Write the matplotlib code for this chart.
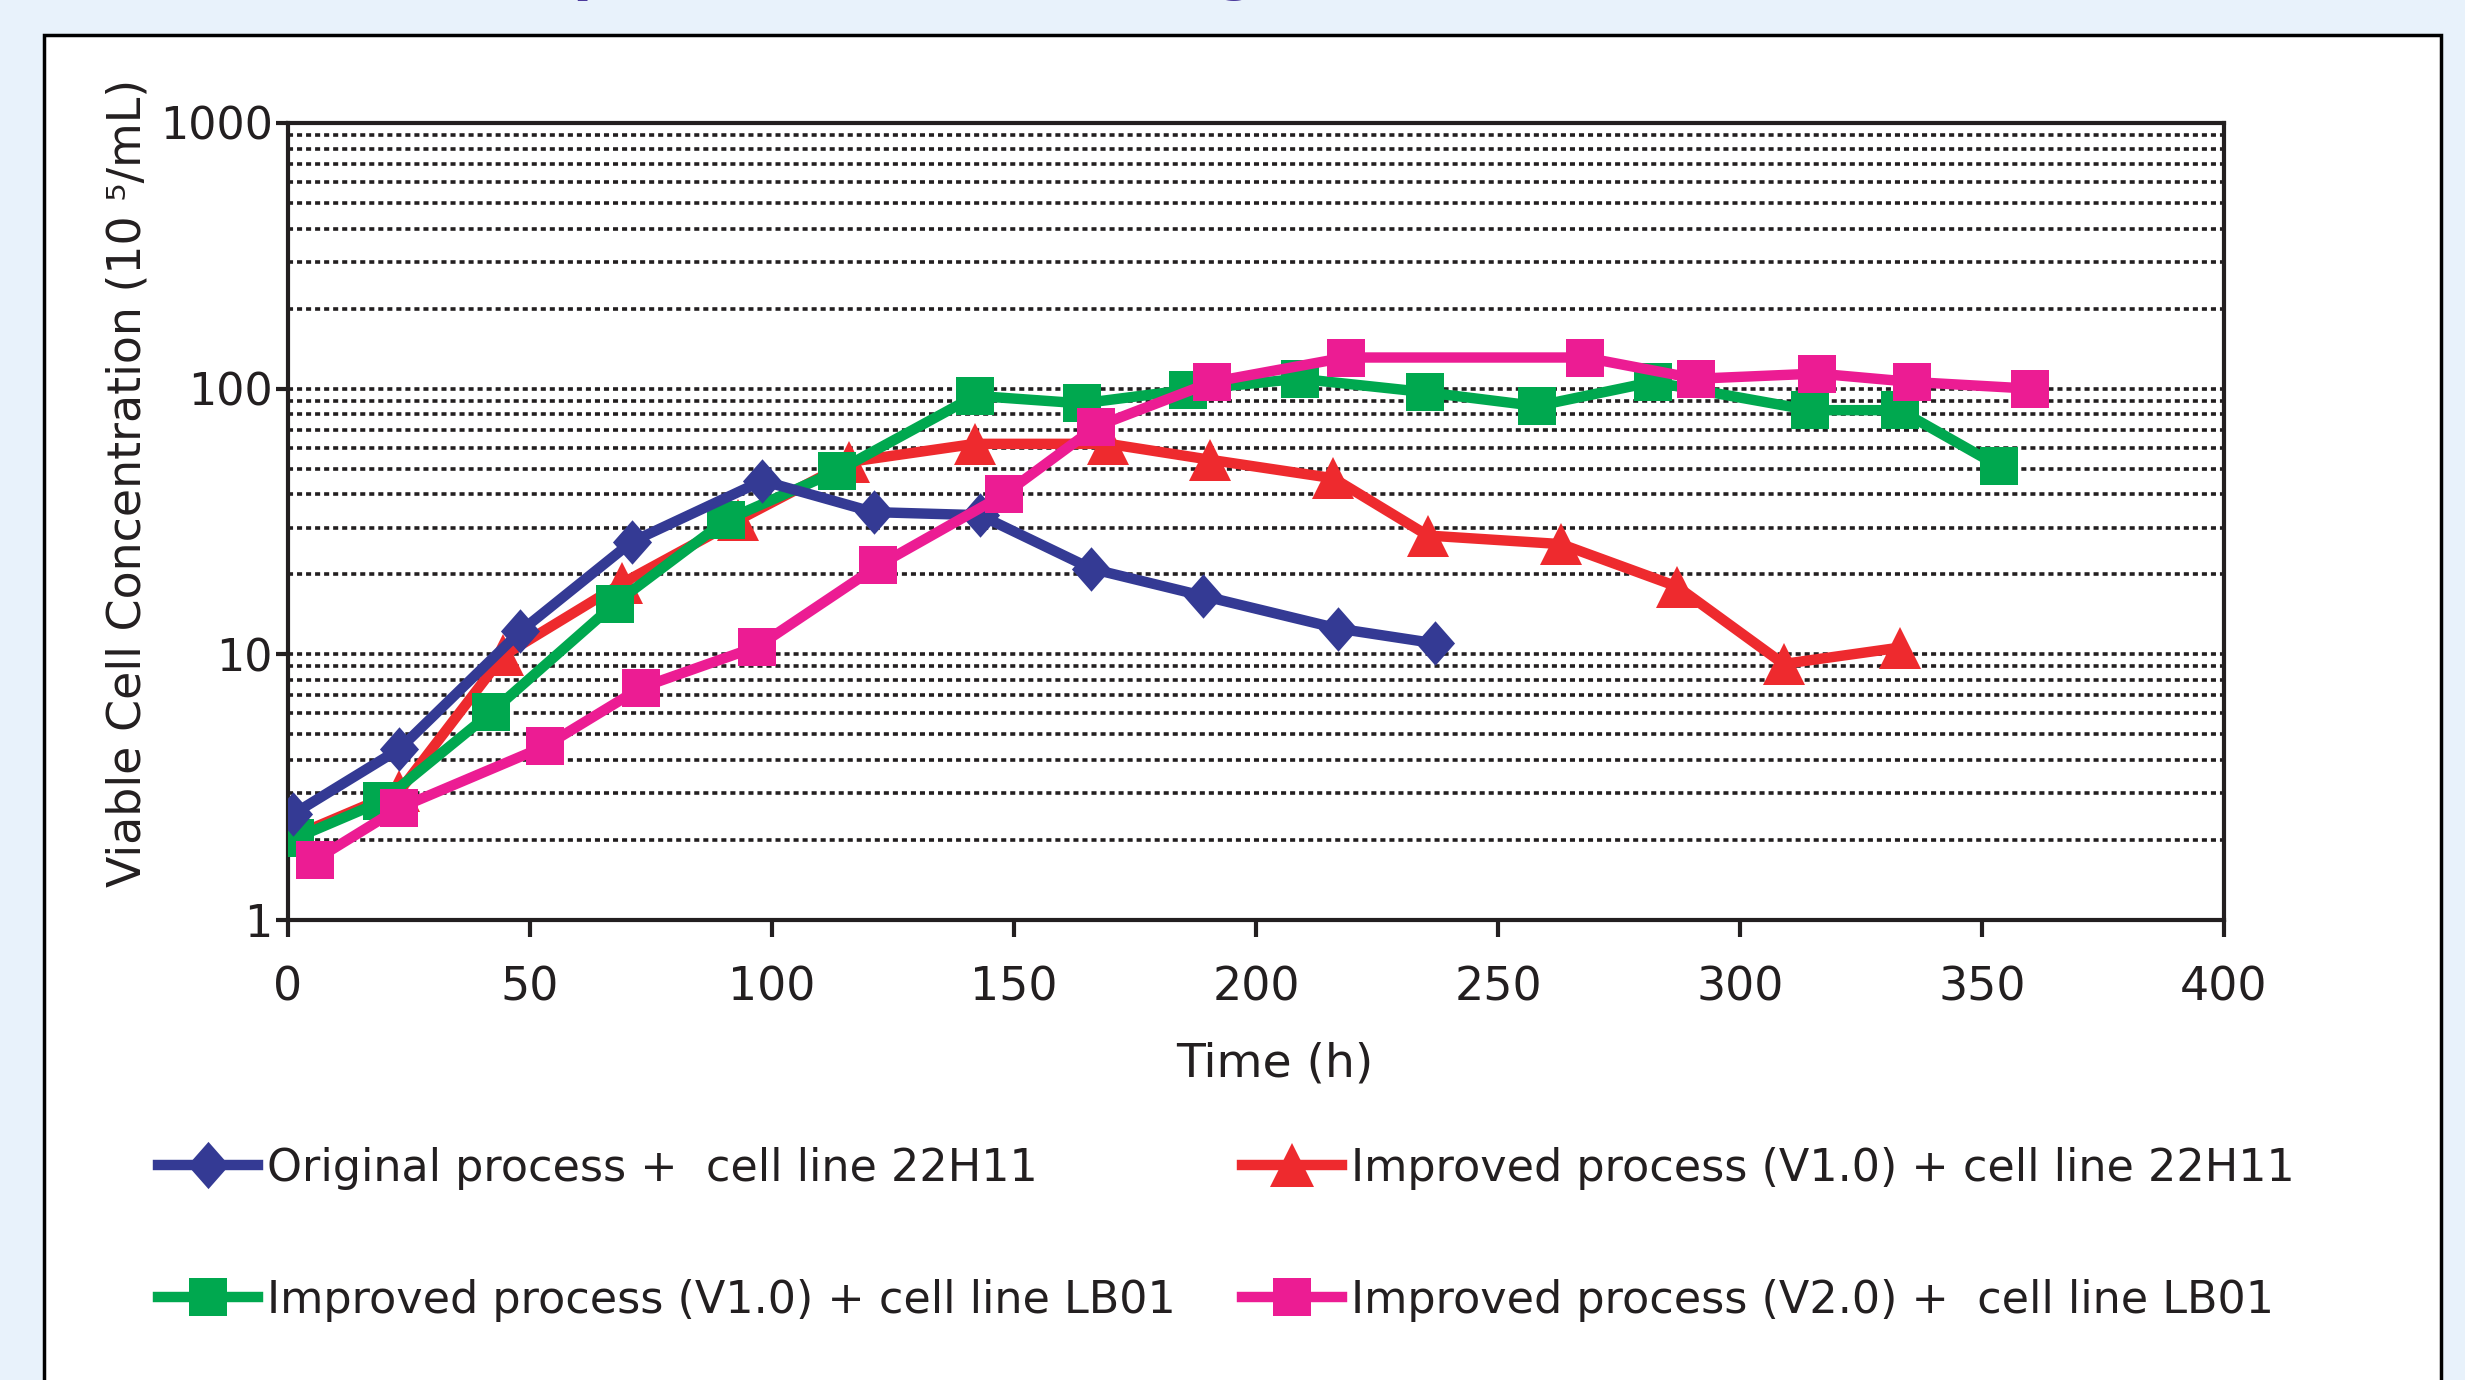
import matplotlib
matplotlib.use("Agg")
import matplotlib.pyplot as plt
from matplotlib.patches import Rectangle
from matplotlib.lines import Line2D

# =========================
# DATA
# =========================
orig_22h11_t = [1, 23, 48, 71, 98, 121, 143, 166, 189, 217, 237]
orig_22h11_v = [2.5, 4.4, 12.2, 26.5, 45, 34.3, 33.4, 21, 16.6, 12.5, 11]

v1_22h11_t = [2, 23, 44.5, 69, 93, 116, 142, 169.5, 190.5, 216, 235.5, 263, 287, 309, 333]
v1_22h11_v = [2.1, 3.05, 9.9, 18.5, 32, 53, 62, 62, 54, 46, 28, 26, 18, 9.2, 10.6]

v1_lb01_t = [1.5, 19.5, 42, 67.5, 90.5, 113.5, 142, 164, 186, 209, 235, 258, 282, 314.5, 333, 353.5]
v1_lb01_v = [2.03, 2.8, 6.05, 15.5, 32, 49, 94, 88, 99, 109, 97, 86, 106, 83, 83, 51]

v2_lb01_t = [5.5, 23, 53, 73, 97, 122, 148, 167, 191, 218.5, 268, 291, 316, 335.5, 360]
v2_lb01_v = [1.68, 2.64, 4.5, 7.5, 10.7, 21.6, 40, 72, 106, 131, 131, 109, 114, 106, 100]

LABELS = ["Original process +  cell line 22H11",
          "Improved process (V1.0) + cell line 22H11",
          "Improved process (V1.0) + cell line LB01",
          "Improved process (V2.0) +  cell line LB01"]

X_TICKS = [0, 50, 100, 150, 200, 250, 300, 350, 400]
Y_TICKS = [1, 10, 100, 1000]
Y_TICKLABELS = ["1", "10", "100", "1000"]

COL = {"blue": "#343A94", "red": "#EE2A2E", "green": "#00A84F",
       "pink": "#EC1C93", "ink": "#231F20", "bg": "#E8F2FB",
       "title": "#4B3A9C"}

# slightly tall diamond, like the spreadsheet marker
DIAMOND = [(0, 1), (0.88, 0), (0, -1), (-0.88, 0), (0, 1)]

W, H, DPI = 2465, 1380, 100
fig = plt.figure(figsize=(W / DPI, H / DPI), dpi=DPI, facecolor=COL["bg"])

# white panel with black frame (kept behind the axes)
panel = Rectangle((44 / W, -0.05), (2441 - 44) / W, 1.05 - 35 / H,
                  transform=fig.transFigure, facecolor="white",
                  edgecolor="black", linewidth=2.5, zorder=-5)
fig.patches.append(panel)

# cut-off title above the panel (only descenders show)
fig.text(364 / W, 1 + 11 / H, "Cell expansion and culture growth",
         color=COL["title"], fontsize=40, fontweight="bold", va="baseline")

ax = fig.add_axes([288 / W, 1 - 920 / H, (2224 - 288) / W, (920 - 123) / H])
ax.set_facecolor("white")
ax.set_yscale("log")

lw = 7.5
ax.plot(v1_22h11_t, v1_22h11_v, color=COL["red"], lw=lw, marker="^",
        ms=30, mew=0, zorder=3)
ax.plot(v1_lb01_t, v1_lb01_v, color=COL["green"], lw=lw, marker="s",
        ms=27, mew=0, zorder=4)
ax.plot(orig_22h11_t, orig_22h11_v, color=COL["blue"], lw=lw, marker=DIAMOND,
        ms=32, mew=0, zorder=5)
ax.plot(v2_lb01_t, v2_lb01_v, color=COL["pink"], lw=lw, marker="s",
        ms=27, mew=0, zorder=6)

ax.set_xlim(0, 400)
ax.set_ylim(1, 1000)
ax.set_xticks(X_TICKS)
ax.set_yticks(Y_TICKS)
ax.set_yticklabels(Y_TICKLABELS)
ax.tick_params(axis="y", which="minor", length=0)
ax.tick_params(axis="x", direction="out", length=12, width=3,
               labelsize=33, pad=21, colors=COL["ink"])
ax.tick_params(axis="y", which="major", direction="out", length=9, width=3,
               labelsize=32, pad=2, colors=COL["ink"])

ax.set_axisbelow(True)
ax.yaxis.grid(True, which="both", linestyle=(0, (1.4, 1.1)),
              color=COL["ink"], linewidth=2.6)
ax.xaxis.grid(False)
for s in ax.spines.values():
    s.set_color(COL["ink"])
    s.set_linewidth(3)

fig.text(1275 / W, 1 - 1064 / H, "Time (h)", fontsize=34, color=COL["ink"],
         ha="center", va="center")
fig.text(128 / W, 1 - 483 / H, "Viable Cell Concentration (10 \u2075/mL)",
         fontsize=33, color=COL["ink"], rotation=90, ha="center", va="center")

# legend, filled column-wise: blue/green left, red/pink right
def handle(color, marker, ms):
    return Line2D([], [], color=color, lw=lw, marker=marker, ms=ms, mew=0)

handles = [handle(COL["blue"], DIAMOND, 34), handle(COL["green"], "s", 28),
           handle(COL["red"], "^", 32), handle(COL["pink"], "s", 28)]
labels = [LABELS[0], LABELS[2], LABELS[1], LABELS[3]]
fig.legend(handles, labels, ncol=2, loc="upper left",
           bbox_to_anchor=(158 / W, 1 - 1147 / H), frameon=False,
           fontsize=32, handlelength=2.25, handletextpad=0.2,
           columnspacing=1.5, labelspacing=2.0, borderpad=0,
           borderaxespad=0, labelcolor=COL["ink"])

fig.savefig("out.png", dpi=DPI, facecolor=fig.get_facecolor())
